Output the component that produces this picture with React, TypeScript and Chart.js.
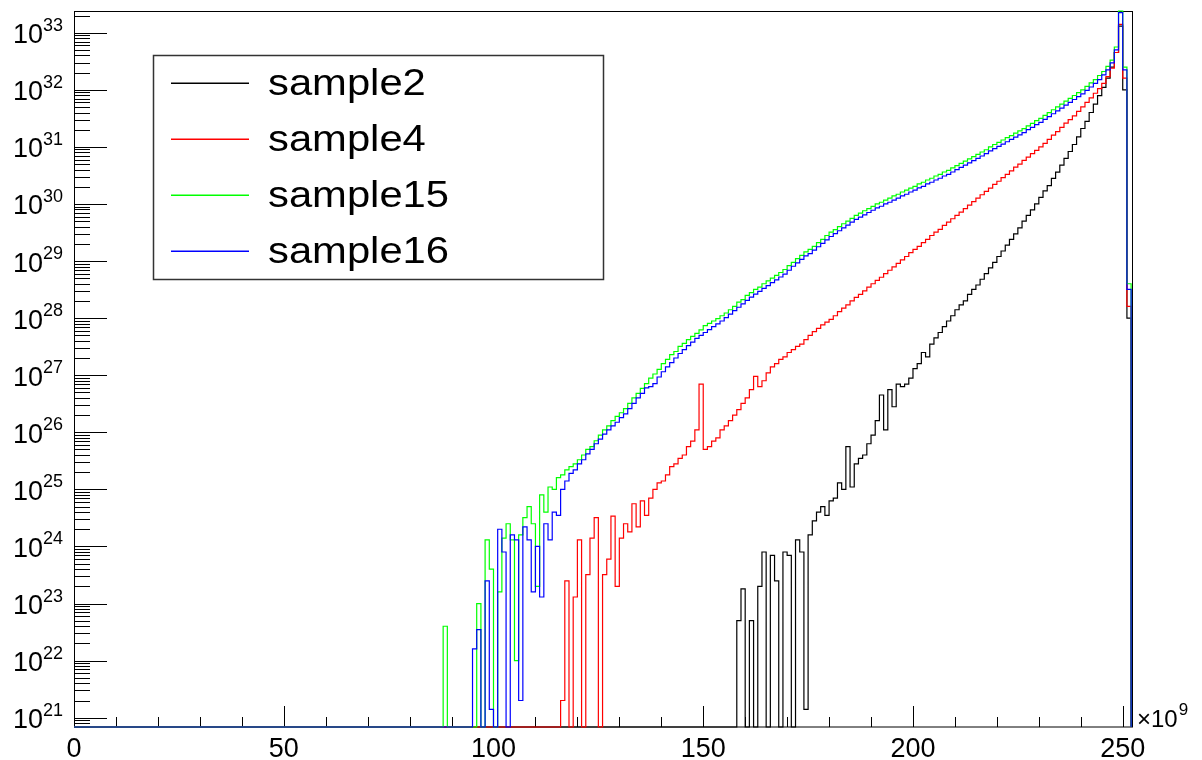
import React, { useEffect, useRef } from "react";
import { Chart, registerables } from "chart.js";

Chart.register(...registerables);

// ---- Series (histogram bin contents, 1 bin = 1 x 10^9, bins before the first listed bin are empty) ----
const seriesNames = ["sample2", "sample4", "sample15", "sample16"];
const seriesColors = ["#000000", "#ff0000", "#00ff00", "#0000ff"];

const sample2Start = 158;
const sample2 = [
  5e22, 1.8e23, 0, 5e22, 0, 2e23, 8e23, 0, 7e23, 2.5e23, // 158
  0, 8e23, 7e23, 0, 1.3e24, 8e23, 1.4e21, 1.6e24, 2.8e24, 4e24, // 168
  5e24, 3.5e24, 6.3e24, 7e24, 1.3e25, 1e25, 5.6e25, 1.1e25, 2.8e25, 3.5e25, // 178
  4e25, 6.3e25, 8.9e25, 1.6e26, 4.5e26, 1.1e26, 5.6e26, 2.8e26, 7e26, 6.3e26, // 188
  7e26, 8.9e26, 1.3e27, 1.6e27, 2.5e27, 2.1e27, 3.5e27, 4.5e27, 5.6e27, 7.1e27, // 198
  8.9e27, 1.1e28, 1.4e28, 1.7e28, 2e28, 2.6e28, 3.2e28, 3.8e28, 4.8e28, 6e28, // 208
  7.6e28, 9.5e28, 1.2e29, 1.5e29, 1.9e29, 2.4e29, 3e29, 3.8e29, 5e29, 6.3e29, // 218
  7.9e29, 1e30, 1.3e30, 1.7e30, 2.1e30, 2.8e30, 3.6e30, 4.8e30, 6.3e30, 8.3e30, // 228
  1.1e31, 1.5e31, 2.1e31, 2.8e31, 4e31, 5.6e31, 7.9e31, 1.1e32, 1.6e32, 2.5e32, // 238
  4.5e32, 1.3e33, 1e32, 1e28, // 248
];

const sample4Start = 116;
const sample4 = [
  2e21, 2.5e23, 0, 1.3e23, 1.3e24, 0, 3.2e23, 1.4e24, 3.2e24, 0, // 116
  3.2e23, 6e23, 3.4e24, 2e23, 1.4e24, 2.5e24, 1.8e24, 5.6e24, 2.2e24, 6.3e24, // 126
  3.5e24, 7e24, 1e25, 1.3e25, 1.4e25, 1.8e25, 2.5e25, 2.8e25, 3.5e25, 4e25, // 136
  5.6e25, 7e25, 1.1e26, 7e26, 5e25, 5.6e25, 7e25, 8e25, 1.1e26, 1.3e26, // 146
  1.6e26, 2e26, 2.5e26, 3.2e26, 4e26, 5.6e26, 9.5e26, 6.3e26, 8e26, 1.1e27, // 156
  1.4e27, 1.6e27, 1.9e27, 2.1e27, 2.5e27, 2.8e27, 3.2e27, 3.5e27, 4.2e27, 5e27, // 166
  5.8e27, 6.6e27, 7.6e27, 8.5e27, 9.5e27, 1.1e28, 1.3e28, 1.5e28, 1.7e28, 2e28, // 176
  2.3e28, 2.6e28, 3e28, 3.5e28, 4e28, 4.6e28, 5.2e28, 6e28, 6.9e28, 7.9e28, // 186
  9.1e28, 1.05e29, 1.2e29, 1.4e29, 1.6e29, 1.8e29, 2.1e29, 2.4e29, 2.8e29, 3.2e29, // 196
  3.6e29, 4.2e29, 4.8e29, 5.5e29, 6.3e29, 7.2e29, 8.3e29, 9.5e29, 1.1e30, 1.26e30, // 206
  1.45e30, 1.66e30, 1.9e30, 2.2e30, 2.5e30, 2.9e30, 3.3e30, 3.8e30, 4.4e30, 5e30, // 216
  5.8e30, 6.6e30, 7.6e30, 8.7e30, 1e31, 1.15e31, 1.35e31, 1.6e31, 1.85e31, 2.2e31, // 226
  2.6e31, 3e31, 3.5e31, 4.2e31, 5e31, 6e31, 7.2e31, 8.7e31, 1.05e32, 1.3e32, // 236
  1.7e32, 2.4e32, 4.5e32, 1.4e33, 1.6e32, 1.6e28, // 246
];

const sample15Start = 88;
const sample15 = [
  4e22, 0, 0, 0, 0, 0, 0, 0, 1e23, 0, // 88
  1.3e24, 4e23, 0, 1.6e23, 1.4e24, 2.5e24, 1.3e24, 1e22, 1.6e24, 3.2e24, // 98
  5e24, 2.5e24, 2e23, 8e24, 4e24, 1.1e25, 1e25, 1.6e25, 1.8e25, 2.2e25, // 108
  2.5e25, 2.8e25, 3.3e25, 4e25, 5e25, 5.6e25, 7.1e25, 8.9e25, 1.1e26, 1.3e26, // 118
  1.6e26, 1.9e26, 2.2e26, 2.6e26, 3.2e26, 4e26, 4.8e26, 5.9e26, 7.1e26, 8.9e26, // 128
  1.05e27, 1.26e27, 1.6e27, 1.9e27, 2.3e27, 2.6e27, 3.2e27, 3.6e27, 4.2e27, 4.8e27, // 138
  5.4e27, 6.2e27, 7.4e27, 8.1e27, 8.9e27, 9.8e27, 1.1e28, 1.23e28, 1.4e28, 1.6e28, // 148
  1.9e28, 2.1e28, 2.5e28, 2.8e28, 3.2e28, 3.5e28, 4e28, 4.5e28, 5e28, 5.6e28, // 158
  6.3e28, 7.1e28, 8.3e28, 9.5e28, 1.1e29, 1.26e29, 1.45e29, 1.6e29, 1.8e29, 2.1e29, // 168
  2.4e29, 2.8e29, 3.2e29, 3.55e29, 4e29, 4.5e29, 5e29, 5.6e29, 6.3e29, 6.9e29, // 178
  7.6e29, 8.3e29, 9.1e29, 1e30, 1.07e30, 1.17e30, 1.26e30, 1.38e30, 1.48e30, 1.62e30, // 188
  1.74e30, 1.9e30, 2.04e30, 2.24e30, 2.4e30, 2.63e30, 2.82e30, 3.09e30, 3.31e30, 3.63e30, // 198
  3.89e30, 4.27e30, 4.68e30, 5.13e30, 5.62e30, 6.17e30, 6.76e30, 7.41e30, 8.13e30, 8.91e30, // 208
  1e31, 1.1e31, 1.2e31, 1.32e31, 1.45e31, 1.58e31, 1.74e31, 1.91e31, 2.09e31, 2.34e31, // 218
  2.57e31, 2.88e31, 3.16e31, 3.55e31, 3.98e31, 4.47e31, 5.01e31, 5.62e31, 6.31e31, 7.08e31, // 228
  7.94e31, 8.91e31, 1e32, 1.15e32, 1.32e32, 1.51e32, 1.78e32, 2.09e32, 2.57e32, 3.31e32, // 238
  5.62e32, 2.4e33, 2.5e32, 4e28, // 248
];

const sample16Start = 95;
const sample16 = [
  1.6e22, 3.5e22, 0, 2.5e23, 1.4e21, 0, 2e24, 8e23, 0, 1.6e24, // 95
  1.3e24, 2e21, 2.2e24, 1.3e24, 1.6e23, 1e24, 1.3e23, 2.5e24, 1.3e24, 4e24, // 105
  3.5e24, 1e25, 1.4e25, 1.9e25, 2.2e25, 2.8e25, 3.3e25, 4.2e25, 5e25, 6.3e25, // 115
  7.6e25, 9.3e25, 1.1e26, 1.3e26, 1.5e26, 1.8e26, 2.1e26, 2.6e26, 3.2e26, 4e26, // 125
  4.8e26, 6e26, 6.3e26, 7.1e26, 9.3e26, 1.15e27, 1.4e27, 1.66e27, 2e27, 2.4e27, // 135
  2.8e27, 3.3e27, 3.8e27, 4.4e27, 5e27, 5.6e27, 6.3e27, 7.1e27, 7.9e27, 8.9e27, // 145
  1.02e28, 1.17e28, 1.35e28, 1.55e28, 1.78e28, 2.04e28, 2.34e28, 2.63e28, 2.95e28, 3.31e28, // 155
  3.72e28, 4.17e28, 4.68e28, 5.25e28, 5.89e28, 6.9e28, 8.1e28, 9.3e28, 1.07e29, 1.23e29, // 165
  1.35e29, 1.55e29, 1.78e29, 2.04e29, 2.34e29, 2.69e29, 3.02e29, 3.39e29, 3.8e29, 4.27e29, // 175
  4.79e29, 5.37e29, 5.89e29, 6.46e29, 7.08e29, 7.76e29, 8.51e29, 9.12e29, 1e30, 1.07e30, // 185
  1.17e30, 1.26e30, 1.38e30, 1.48e30, 1.62e30, 1.74e30, 1.91e30, 2.04e30, 2.24e30, 2.4e30, // 195
  2.63e30, 2.82e30, 3.09e30, 3.31e30, 3.63e30, 3.98e30, 4.37e30, 4.79e30, 5.25e30, 5.75e30, // 205
  6.31e30, 6.92e30, 7.59e30, 8.51e30, 9.33e30, 1.02e31, 1.12e31, 1.23e31, 1.35e31, 1.48e31, // 215
  1.62e31, 1.78e31, 2e31, 2.19e31, 2.45e31, 2.69e31, 3.02e31, 3.39e31, 3.8e31, 4.27e31, // 225
  4.79e31, 5.37e31, 6.03e31, 6.76e31, 7.59e31, 8.51e31, 9.77e31, 1.12e32, 1.29e32, 1.51e32, // 235
  1.82e32, 2.24e32, 2.95e32, 5e32, 2.24e33, 2.24e32, 3.2e28, // 245
];

// ---- Axes ----
const xMin = 0;
const xMax = 252.45;
const yMin = 6.87e20;
const yMax = 2.4e33;
const xTickLabels = [0, 50, 100, 150, 200, 250];
const xMinorTickStep = 10;
const yDecadeExponents = [21, 22, 23, 24, 25, 26, 27, 28, 29, 30, 31, 32, 33];
const xExponentLabel = "9";

const FONT = "'Liberation Sans', Arial, Helvetica, sans-serif";

function toPoints(start: number, vals: number[]) {
  // empty bins are drawn on the axis floor, as ROOT does on a log scale
  const pts: { x: number; y: number }[] = [{ x: xMin, y: yMin }];
  vals.forEach((v, i) => pts.push({ x: start + i, y: v > 0 ? v : yMin }));
  pts.push({ x: start + vals.length, y: yMin });
  return pts;
}

const rootAxes = {
  id: "rootAxes",
  beforeDatasetsDraw(chart: any) {
    const { ctx, chartArea: a, scales } = chart;
    const xs = scales.x;
    const ys = scales.y;
    ctx.save();
    ctx.strokeStyle = "#000";
    ctx.lineWidth = 1;
    ctx.strokeRect(a.left + 0.5, a.top + 0.5, a.right - a.left - 1, a.bottom - a.top - 0.5);
    ctx.beginPath();
    for (let e = 20; e <= 33; e++) {
      for (let m = 1; m <= 9; m++) {
        const v = m * Math.pow(10, e);
        if (v < yMin || v > yMax) continue;
        const py = Math.round(ys.getPixelForValue(v)) + 0.5;
        const len = m === 1 ? 33 : 16;
        ctx.moveTo(a.left, py);
        ctx.lineTo(a.left + len, py);
      }
    }
    for (let t = 0; t <= 250; t += xMinorTickStep) {
      const px = Math.round(xs.getPixelForValue(t)) + 0.5;
      const len = t % 50 === 0 ? 21 : 10;
      ctx.moveTo(px, a.bottom);
      ctx.lineTo(px, a.bottom - len);
    }
    ctx.stroke();
    ctx.restore();
  },
  afterDraw(chart: any) {
    const { ctx, chartArea: a, scales } = chart;
    const xs = scales.x;
    const ys = scales.y;
    ctx.save();
    ctx.fillStyle = "#000";
    ctx.textBaseline = "alphabetic";
    const baseFont = `27px ${FONT}`;
    const supFont = `18px ${FONT}`;
    const rightEdge = a.left - 11;
    for (const e of yDecadeExponents) {
      const py = ys.getPixelForValue(Math.pow(10, e));
      ctx.font = supFont;
      const sup = String(e);
      const ws = ctx.measureText(sup).width;
      ctx.font = baseFont;
      const wb = ctx.measureText("10").width;
      ctx.textAlign = "left";
      ctx.fillText("10", rightEdge - ws - wb, py + 10.5);
      ctx.font = supFont;
      ctx.fillText(sup, rightEdge - ws, py - 2);
    }
    ctx.font = baseFont;
    ctx.textAlign = "center";
    for (const t of xTickLabels) {
      const px = xs.getPixelForValue(t);
      ctx.fillText(String(t), px, a.bottom + 30);
    }
    ctx.textAlign = "left";
    ctx.font = `24px ${FONT}`;
    const lx = a.right + 4;
    ctx.fillText("\u00d710", lx, a.bottom);
    const w = ctx.measureText("\u00d710").width;
    ctx.font = `17px ${FONT}`;
    ctx.fillText(xExponentLabel, lx + w + 1, a.bottom - 12);

    // legend
    const L = { x: 153, y: 55, w: 450, h: 224 };
    ctx.fillStyle = "#fff";
    ctx.fillRect(L.x, L.y, L.w, L.h);
    ctx.strokeStyle = "#333";
    ctx.lineWidth = 1.5;
    ctx.strokeRect(L.x + 0.5, L.y + 0.5, L.w, L.h);
    const rowH = 56;
    seriesNames.forEach((name, i) => {
      const cy = 83 + i * rowH;
      ctx.fillStyle = seriesColors[i];
      ctx.fillRect(171, cy - 0.5, 78, 1.5);
      ctx.fillStyle = "#000";
      ctx.font = `36px ${FONT}`;
      ctx.save();
      ctx.translate(268, cy + 12);
      ctx.scale(1.16, 1);
      ctx.fillText(name, 0, 0);
      ctx.restore();
    });
    ctx.restore();
  },
};

export default function App() {
  const ref = useRef<HTMLCanvasElement | null>(null);
  useEffect(() => {
    if (!ref.current) return;
    const starts = [sample2Start, sample4Start, sample15Start, sample16Start];
    const values = [sample2, sample4, sample15, sample16];
    const chart = new Chart(ref.current, {
      type: "line",
      data: {
        datasets: seriesNames.map((name, i) => ({
          label: name,
          data: toPoints(starts[i], values[i]),
          borderColor: seriesColors[i],
          backgroundColor: seriesColors[i],
          borderWidth: 1.2,
          pointRadius: 0,
          stepped: "before" as const,
          fill: false,
          order: 4 - i,
          clip: 1,
        })),
      },
      options: {
        responsive: false,
        animation: false,
        events: [],
        layout: { padding: { left: 74, top: 11, right: 69, bottom: 33 } },
        plugins: { legend: { display: false }, tooltip: { enabled: false }, title: { display: false } },
        scales: {
          x: { type: "linear", min: xMin, max: xMax, display: false },
          y: { type: "logarithmic", min: yMin, max: yMax, display: false },
        },
      },
      plugins: [rootAxes],
    });
    return () => chart.destroy();
  }, []);
  return (
    <div style={{ position: "fixed", left: 0, top: 0, width: 1202, height: 760, background: "#fff" }}>
      <canvas ref={ref} width={1202} height={760} style={{ display: "block" }} />
    </div>
  );
}
